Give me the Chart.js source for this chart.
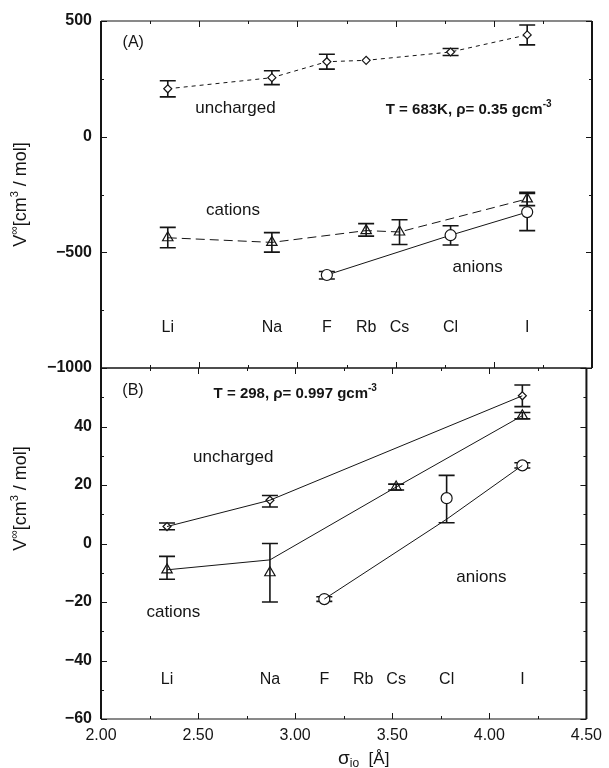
<!DOCTYPE html>
<html><head><meta charset="utf-8">
<script src="https://cdn.jsdelivr.net/npm/chart.js@4.4.1/dist/chart.umd.min.js"></script>
<style>
html,body{margin:0;padding:0;background:#fff;}
#wrap{position:relative;width:609px;height:768px;background:#fff;}
canvas{position:absolute;left:0;top:0;}
</style></head><body>
<div id="wrap"><canvas id="cB" width="609" height="768"></canvas><canvas id="cA" width="609" height="768"></canvas></div>
<script>
// ---- categories ----
const ions = ['Li', 'Na', 'F', 'Rb', 'Cs', 'Cl', 'I'];
const sigma = [2.34, 2.87, 3.15, 3.35, 3.52, 3.78, 4.17];
// ---- tick labels ----
const xTickStep = 0.5;
const yTicksA = [500, 0, -500, -1000];
const yTicksB = [40, 20, 0, -20, -40, -60];

// ---- Panel A : T = 683 K ----
const unchA_ions = ['Li', 'Na', 'F', 'Rb', 'Cl', 'I'];
const unchA      = [207, 255, 324, 330, 366, 440];
const unchA_lo   = [172, 225, 292, 330, 351, 397];
const unchA_hi   = [242, 285, 356, 330, 381, 483];

const catA_ions = ['Li', 'Na', 'Rb', 'Cs', 'I'];
const catA      = [-437, -457, -406, -412, -269];
const catA_lo   = [-480, -499, -430, -466, -298];
const catA_hi   = [-392, -415, -376, -359, -241];

const aniA_ions = ['F', 'Cl', 'I'];
const aniA      = [-598, -426, -326];
const aniA_lo   = [-615, -468, -406];
const aniA_hi   = [-583, -385, -246];

// ---- Panel B : T = 298 K ----
const unchB_ions = ['Li', 'Na', 'I'];
const unchB      = [5.8, 14.8, 50.5];
const unchB_lo   = [4.7, 12.5, 46.8];
const unchB_hi   = [7.0, 16.4, 54.2];
const unchB_line = [5.8, 14.8, 50.5];

const catB_ions = ['Li', 'Na', 'Cs', 'I'];
const catB      = [-9.0, -10.0, 19.3, 43.7];
const catB_lo   = [-12.2, -20.0, 18.3, 42.6];
const catB_hi   = [-4.4, 0.0, 20.3, 44.8];
const catB_line = [-9.0, -5.6, 19.3, 43.7];

const aniB_ions = ['F', 'Cl', 'I'];
const aniB      = [-19.0, 15.5, 26.7];
const aniB_lo   = [-19.8, 7.1, 25.8];
const aniB_hi   = [-18.2, 23.3, 27.6];
const aniB_line = [-19.0, 8.3, 26.7];

// ---- helpers ----
const sx = n => sigma[ions.indexOf(n)];
const pts = (names, vals) => names.map((n, i) => ({x: sx(n), y: vals[i]}));
const minus = v => (v < 0 ? '\u2212' + Math.abs(v) : String(v));
const FONT = "'Liberation Sans', Arial, Helvetica, sans-serif";
const INK = '#151515';

const errPlugin = {
  id: 'errbars',
  beforeDatasetsDraw(chart) {
    const {ctx, scales: {x, y}} = chart;
    ctx.save();
    ctx.strokeStyle = INK;
    ctx.lineWidth = 1.6;
    chart.data.datasets.forEach(ds => {
      if (!ds.errLo) return;
      ds.data.forEach((p, i) => {
        const lo = ds.errLo[i], hi = ds.errHi[i];
        if (lo === hi) return;
        const px = x.getPixelForValue(p.x);
        const y1 = y.getPixelForValue(lo), y2 = y.getPixelForValue(hi);
        ctx.beginPath();
        ctx.moveTo(px, y1); ctx.lineTo(px, y2);
        ctx.moveTo(px - 8, y1); ctx.lineTo(px + 8, y1);
        ctx.moveTo(px - 8, y2); ctx.lineTo(px + 8, y2);
        ctx.stroke();
      });
    });
    ctx.restore();
  }
};

const framePlugin = {
  id: 'frame',
  afterDraw(chart, args, opts) {
    const {ctx, chartArea: a, scales: {x, y}} = chart;
    ctx.save();
    ctx.strokeStyle = INK;
    ctx.lineWidth = 1;
    const ln = (x1, y1, x2, y2) => { ctx.beginPath(); ctx.moveTo(x1, y1); ctx.lineTo(x2, y2); ctx.stroke(); };
    for (let k = 0; k <= Math.round((x.max - x.min) / 0.25); k++) {
      const v = x.min + k * 0.25;
      const px = Math.round(x.getPixelForValue(v)) + 0.5;
      const L = (k % 2 === 0) ? 6 : 3;
      ln(px, a.top, px, a.top + L);
      ln(px, a.bottom - L, px, a.bottom);
    }
    const nY = Math.round((y.max - y.min) / opts.yMinor);
    for (let k = 0; k <= nY; k++) {
      const v = y.min + k * opts.yMinor;
      const py = Math.round(y.getPixelForValue(v)) + 0.5;
      const L = (k % 2 === 0) ? 6 : 3;
      ln(a.left, py, a.left + L, py);
      ln(a.right - L, py, a.right, py);
    }
    ctx.lineWidth = 1.2;
    ln(a.left, a.top, a.right, a.top);
    ln(a.left, a.bottom, a.right, a.bottom);
    ctx.lineWidth = 2;
    ln(a.left, a.top, a.left, a.bottom);
    ln(a.right, a.top, a.right, a.bottom);
    ctx.restore();
  }
};

// rich text: parts [{t, size, bold, dy}]
function drawParts(ctx, parts, x, y, align) {
  let w = 0;
  parts.forEach(p => { ctx.font = (p.bold ? 'bold ' : '') + p.size + 'px ' + FONT; w += ctx.measureText(p.t).width; });
  let cx = align === 'center' ? x - w / 2 : (align === 'right' ? x - w : x);
  parts.forEach(p => {
    ctx.font = (p.bold ? 'bold ' : '') + p.size + 'px ' + FONT;
    ctx.fillText(p.t, cx, y + (p.dy || 0));
    cx += ctx.measureText(p.t).width;
  });
}

const notesPlugin = {
  id: 'notes',
  afterDraw(chart, args, opts) {
    const {ctx, scales: {x, y}} = chart;
    ctx.save();
    ctx.fillStyle = INK;
    ctx.textBaseline = 'middle';
    ctx.textAlign = 'left';
    (opts.items || []).forEach(n => {
      const px = x.getPixelForValue(n.x), py = y.getPixelForValue(n.y);
      drawParts(ctx, n.parts, px, py, n.align || 'left');
    });
    (opts.ionLabels ? ions : []).forEach((name, i) => {
      const px = x.getPixelForValue(sigma[i]), py = y.getPixelForValue(opts.ionLabelY);
      drawParts(ctx, [{t: name, size: 16}], px, py, 'center');
    });
    if (opts.yTitle) {
      const a = chart.chartArea;
      ctx.translate(opts.yTitle.x, (a.top + a.bottom) / 2 + (opts.yTitle.dy || 0));
      ctx.rotate(-Math.PI / 2);
      drawParts(ctx, [
        {t: 'V', size: 18}, {t: '\u221E', size: 12, dy: -6}, {t: '[cm', size: 18},
        {t: '3', size: 11, dy: -6}, {t: ' / mol]', size: 18}
      ], 0, 0, 'center');
      ctx.setTransform(1, 0, 0, 1, 0, 0);
    }
    if (opts.xTitle) {
      drawParts(ctx, [{t: '\u03C3', size: 19}, {t: 'io', size: 12, dy: 5}, {t: '  [\u00C5]', size: 17}],
        (chart.chartArea.left + chart.chartArea.right) / 2 + 20, opts.xTitle.y, 'center');
    }
    ctx.restore();
  }
};

const markerBase = {pointBackgroundColor: '#fff', pointBorderColor: INK, pointBorderWidth: 1.2, borderColor: INK, borderWidth: 1};

const yTickFont = {family: FONT, size: 16, weight: 'bold'};

// ---------- Panel A ----------
new Chart(document.getElementById('cA'), {
  type: 'scatter',
  data: {datasets: [
    Object.assign({}, markerBase, {label: 'uncharged', data: pts(unchA_ions, unchA), showLine: true, borderDash: [4, 4],
      pointStyle: 'rectRot', pointRadius: 4, errLo: unchA_lo, errHi: unchA_hi}),
    Object.assign({}, markerBase, {label: 'cations', data: pts(catA_ions, catA), showLine: true, borderDash: [9, 5],
      pointStyle: 'triangle', pointRadius: 6, pointBackgroundColor: 'rgba(255,255,255,0)', errLo: catA_lo, errHi: catA_hi}),
    Object.assign({}, markerBase, {label: 'anions', data: pts(aniA_ions, aniA), showLine: true,
      pointStyle: 'circle', pointRadius: 5.5, errLo: aniA_lo, errHi: aniA_hi})
  ]},
  options: {
    responsive: false, animation: false, devicePixelRatio: 1,
    layout: {padding: {left: 0, right: 17, top: 21, bottom: 400}},
    plugins: {
      legend: {display: false}, tooltip: {enabled: false},
      frame: {yMinor: 250},
      notes: {
        items: [
          {x: 2.11, y: 405, parts: [{t: '(A)', size: 16}]},
          {x: 2.48, y: 124, parts: [{t: 'uncharged', size: 17}]},
          {x: 3.45, y: 115, parts: [{t: 'T = 683K, \u03C1= 0.35 gcm', size: 15, bold: true}, {t: '-3', size: 10, bold: true, dy: -6}]},
          {x: 2.535, y: -317, parts: [{t: 'cations', size: 17}]},
          {x: 3.79, y: -564, parts: [{t: 'anions', size: 17}]}
        ],
        ionLabels: true, ionLabelY: -827,
        yTitle: {x: 21, dy: 0}
      }
    },
    scales: {
      x: {type: 'linear', min: 2, max: 4.5, display: false},
      y: {type: 'linear', min: -1000, max: 500,
        afterFit: s => { s.width = 101; },
        afterBuildTicks: s => { s.ticks = yTicksA.map(v => ({value: v})); },
        grid: {display: false, drawTicks: false}, border: {display: false},
        ticks: {padding: 9, font: yTickFont, color: INK, callback: v => minus(v)}}
    }
  },
  plugins: [errPlugin, framePlugin, notesPlugin]
});

// ---------- Panel B ----------
new Chart(document.getElementById('cB'), {
  type: 'scatter',
  data: {datasets: [
    Object.assign({}, markerBase, {label: 'uncharged line', data: pts(unchB_ions, unchB_line), showLine: true, pointRadius: 0}),
    Object.assign({}, markerBase, {label: 'cations line', data: pts(catB_ions, catB_line), showLine: true, pointRadius: 0}),
    Object.assign({}, markerBase, {label: 'anions line', data: pts(aniB_ions, aniB_line), showLine: true, pointRadius: 0}),
    Object.assign({}, markerBase, {label: 'uncharged', data: pts(unchB_ions, unchB), showLine: false,
      pointStyle: 'rectRot', pointRadius: 4, errLo: unchB_lo, errHi: unchB_hi}),
    Object.assign({}, markerBase, {label: 'cations', data: pts(catB_ions, catB), showLine: false,
      pointStyle: 'triangle', pointRadius: 6, pointBackgroundColor: 'rgba(255,255,255,0)', errLo: catB_lo, errHi: catB_hi}),
    Object.assign({}, markerBase, {label: 'anions', data: pts(aniB_ions, aniB), showLine: false,
      pointStyle: 'circle', pointRadius: 5.5, errLo: aniB_lo, errHi: aniB_hi})
  ]},
  options: {
    responsive: false, animation: false, devicePixelRatio: 1,
    layout: {padding: {left: 0, right: 17, top: 368, bottom: 0}},
    plugins: {
      legend: {display: false}, tooltip: {enabled: false},
      frame: {yMinor: 10},
      notes: {
        items: [
          {x: 2.11, y: 52.2, parts: [{t: '(B)', size: 16}]},
          {x: 2.58, y: 51.1, parts: [{t: 'T = 298, \u03C1= 0.997 gcm', size: 15, bold: true}, {t: '-3', size: 10, bold: true, dy: -6}]},
          {x: 2.474, y: 29.3, parts: [{t: 'uncharged', size: 17}]},
          {x: 2.234, y: -23.5, parts: [{t: 'cations', size: 17}]},
          {x: 3.83, y: -11.6, parts: [{t: 'anions', size: 17}]}
        ],
        ionLabels: true, ionLabelY: -46.4,
        yTitle: {x: 21, dy: -45},
        xTitle: {y: 759}
      }
    },
    scales: {
      x: {type: 'linear', min: 2, max: 4.5,
        afterFit: s => { s.height = 49; },
        grid: {display: false, drawTicks: false}, border: {display: false},
        ticks: {stepSize: xTickStep, padding: 7, font: {family: FONT, size: 16}, color: INK, maxRotation: 0,
          callback: v => Number(v).toFixed(2)}},
      y: {type: 'linear', min: -60, max: 60,
        afterFit: s => { s.width = 101; },
        afterBuildTicks: s => { s.ticks = yTicksB.map(v => ({value: v})); },
        grid: {display: false, drawTicks: false}, border: {display: false},
        ticks: {padding: 9, font: yTickFont, color: INK, callback: v => minus(v)}}
    }
  },
  plugins: [errPlugin, framePlugin, notesPlugin]
});
</script>
</body></html>
